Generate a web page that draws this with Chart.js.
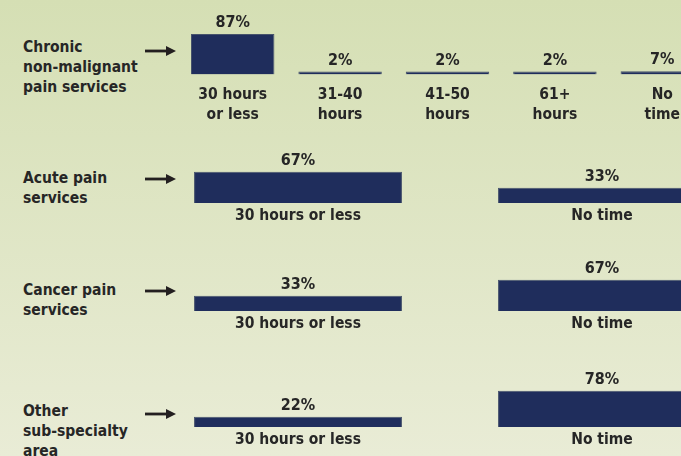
<!DOCTYPE html>
<html lang="en">
<head>
    <meta charset="UTF-8">
    <title>Time spent on pain sub-specialties</title>
    <script src="https://cdn.jsdelivr.net/npm/chart.js"></script>
    <style>
        html, body { margin: 0; padding: 0; }
        body {
            width: 681px;
            height: 456px;
            overflow: hidden;
            position: relative;
            background: linear-gradient(180deg, #d5dfb4 0%, #e9ecd6 100%);
            font-family: "DejaVu Sans Condensed", "DejaVu Sans", sans-serif;
            font-weight: bold;
            color: #262626;
        }
        .row-label {
            position: absolute;
            left: 23px;
            font-size: 15.5px;
            line-height: 20px;
        }
        .arrow {
            position: absolute;
            left: 145px;
            width: 31px;
            height: 12px;
        }
        .chart-box { position: absolute; }
    </style>
</head>
<body>
<script>
    // data
    const rowLabels = [
        ['Chronic', 'non-malignant', 'pain services'],
        ['Acute pain', 'services'],
        ['Cancer pain', 'services'],
        ['Other', 'sub-specialty', 'area']
    ];
    const chronicCategories = [['30 hours', 'or less'], ['31-40', 'hours'], ['41-50', 'hours'], ['61+', 'hours'], ['No', 'time']];
    const chronicValues = [87, 2, 2, 2, 7];
    const timeCategories = ['30 hours or less', 'No time'];
    const acuteValues = [67, 33];
    const cancerValues = [33, 67];
    const otherValues = [22, 78];

    // layout (px)
    const rows = [
        { labelTop: 37, arrowY: 51, box: { left: 179, top: 0, width: 537, height: 125, padTop: 28, axisH: 50.5, tickPad: 10, bar: 0.777, lh: 1.29 }, cats: chronicCategories, values: chronicValues },
        { labelTop: 168, arrowY: 179, box: { left: 146, top: 130, width: 608, height: 100, padTop: 26.5, axisH: 27, tickPad: 4, bar: 0.684, lh: 1.2 }, cats: timeCategories, values: acuteValues },
        { labelTop: 280, arrowY: 291, box: { left: 146, top: 240, width: 608, height: 100, padTop: 24.5, axisH: 29, tickPad: 4, bar: 0.684, lh: 1.2 }, cats: timeCategories, values: cancerValues },
        { labelTop: 401, arrowY: 414, box: { left: 146, top: 355, width: 608, height: 101, padTop: 25.5, axisH: 29, tickPad: 4, bar: 0.684, lh: 1.2 }, cats: timeCategories, values: otherValues }
    ];

    const NAVY = '#1f2d5c';
    const EDGE = '#47536c';
    const TEXT = '#262626';
    const FONT = '"DejaVu Sans Condensed", "DejaVu Sans", sans-serif';

    // percent labels above each bar
    const valueLabels = {
        id: 'valueLabels',
        afterDatasetsDraw(chart) {
            const ctx = chart.ctx;
            const meta = chart.getDatasetMeta(0);
            ctx.save();
            ctx.fillStyle = TEXT;
            ctx.font = 'bold 16px ' + FONT;
            ctx.textAlign = 'center';
            ctx.textBaseline = 'alphabetic';
            meta.data.forEach((bar, i) => {
                ctx.fillText(chart.data.datasets[0].data[i] + '%', bar.x, bar.y - 7);
            });
            ctx.restore();
        }
    };

    function makeRow(row) {
        const b = row.box;
        const div = document.createElement('div');
        div.className = 'chart-box';
        div.style.left = b.left + 'px';
        div.style.top = b.top + 'px';
        div.style.width = b.width + 'px';
        div.style.height = b.height + 'px';
        const canvas = document.createElement('canvas');
        div.appendChild(canvas);
        document.body.appendChild(div);

        return new Chart(canvas, {
            type: 'bar',
            data: {
                labels: row.cats,
                datasets: [{
                    data: row.values,
                    backgroundColor: NAVY,
                    borderColor: EDGE,
                    borderWidth: 1,
                    barPercentage: b.bar,
                    categoryPercentage: 1,
                    minBarLength: 3
                }]
            },
            options: {
                responsive: true,
                maintainAspectRatio: false,
                animation: false,
                layout: { padding: { top: b.padTop, left: 0, right: 0, bottom: 0 } },
                plugins: {
                    legend: { display: false },
                    tooltip: { enabled: false }
                },
                scales: {
                    x: {
                        grid: { display: false, drawTicks: false },
                        border: { display: false },
                        ticks: {
                            color: TEXT,
                            padding: b.tickPad,
                            autoSkip: false,
                            maxRotation: 0,
                            font: { family: FONT, size: 15.5, weight: 'bold', lineHeight: b.lh }
                        },
                        afterFit: function (scale) { scale.height = b.axisH; }
                    },
                    y: { display: false, min: 0, max: 100 }
                }
            },
            plugins: [valueLabels]
        });
    }

    rows.forEach((row, i) => {
        const label = document.createElement('div');
        label.className = 'row-label';
        label.style.top = row.labelTop + 'px';
        label.innerHTML = rowLabels[i].join('<br>');
        document.body.appendChild(label);

        const arrow = document.createElementNS('http://www.w3.org/2000/svg', 'svg');
        arrow.setAttribute('class', 'arrow');
        arrow.setAttribute('viewBox', '0 0 31 12');
        arrow.style.top = (row.arrowY - 6) + 'px';
        arrow.innerHTML = '<rect x="0" y="4.6" width="23" height="2.8" fill="#231f20"/>' +
            '<polygon points="21,1 31,6 21,11" fill="#231f20"/>';
        document.body.appendChild(arrow);

        makeRow(row);
    });
</script>
</body>
</html>
